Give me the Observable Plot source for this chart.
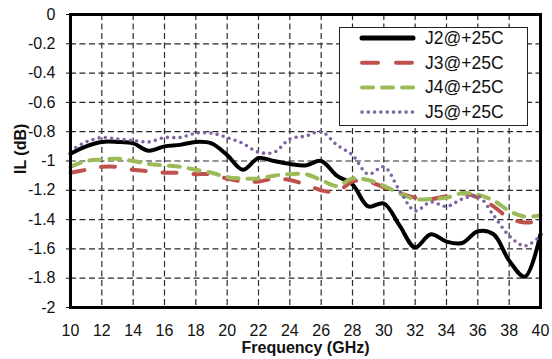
<!DOCTYPE html>
<html><head><meta charset="utf-8">
<script src="https://cdn.jsdelivr.net/npm/d3@7"></script>
<script src="https://cdn.jsdelivr.net/npm/@observablehq/plot@0.6"></script>
<style>
body{margin:0;background:#fff;}
#wrap{position:relative;width:552px;height:359px;}
svg{font-family:"Liberation Sans",Arial,sans-serif;}
g[aria-label="x-axis label"] text{font-weight:bold;}
#legend{position:absolute;left:0;top:0;pointer-events:none;}
</style></head><body><div id="wrap"></div>
<script>
const freq = [10,11,12,13,14,15,16,17,18,19,20,21,22,23,24,25,26,27,28,29,30,31,32,33,34,35,36,37,38,39,40];
const j2 = [-0.95,-0.90,-0.87,-0.87,-0.88,-0.93,-0.90,-0.89,-0.87,-0.88,-0.96,-1.06,-0.98,-1.00,-1.02,-1.03,-1.00,-1.10,-1.16,-1.31,-1.29,-1.44,-1.59,-1.50,-1.55,-1.56,-1.48,-1.50,-1.68,-1.79,-1.50];
const j3 = [-1.08,-1.06,-1.04,-1.04,-1.06,-1.07,-1.08,-1.08,-1.09,-1.09,-1.12,-1.14,-1.14,-1.12,-1.13,-1.16,-1.20,-1.21,-1.14,-1.14,-1.18,-1.22,-1.25,-1.26,-1.24,-1.22,-1.25,-1.31,-1.39,-1.42,-1.41];
const j4 = [-1.04,-1.00,-0.99,-0.985,-1.00,-1.02,-1.03,-1.04,-1.06,-1.08,-1.11,-1.12,-1.12,-1.10,-1.09,-1.09,-1.13,-1.17,-1.12,-1.13,-1.17,-1.22,-1.26,-1.26,-1.25,-1.22,-1.23,-1.27,-1.34,-1.38,-1.37];
const j5 = [-0.93,-0.87,-0.84,-0.85,-0.86,-0.87,-0.84,-0.84,-0.81,-0.81,-0.84,-0.88,-0.94,-0.94,-0.85,-0.83,-0.80,-0.89,-0.96,-1.09,-1.04,-1.20,-1.34,-1.28,-1.31,-1.26,-1.24,-1.37,-1.51,-1.58,-1.51];
const seriesNames = ["J2@+25C","J3@+25C","J4@+25C","J5@+25C"];
const seriesValues = [j2,j3,j4,j5];
const colors = ["#000000","#c0504d","#9bbb59","#8064a2"];
const dashes = ["none","14,17","11,9","0,6.3"];
const widths = [4,4,4,3.6];
const xTicks = [10,12,14,16,18,20,22,24,26,28,30,32,34,36,38,40];
const yTicks = [0,-0.2,-0.4,-0.6,-0.8,-1,-1.2,-1.4,-1.6,-1.8,-2];

const W = 552, H = 359;
const mL = 70, mT = 14, mR = 12, mB = 52;

const lineMarks = seriesNames.map((name, i) => {
  const data = freq.map((f, k) => ({f, v: seriesValues[i][k]}));
  return Plot.line(data, {x: "f", y: "v", stroke: colors[i], strokeWidth: widths[i],
    strokeDasharray: dashes[i], strokeLinecap: "round", curve: "catmull-rom"});
});

const gridStyle = {stroke: "#2a2a2a", strokeOpacity: 1, strokeWidth: 1.2, strokeDasharray: "6,3.5"};

const chart = Plot.plot({
  width: W, height: H,
  marginLeft: mL, marginTop: mT, marginRight: mR, marginBottom: mB,
  style: {background: "#fff", color: "#111", fontSize: "16px", fontFamily: "'Liberation Sans', Arial, sans-serif"},
  x: {domain: [10, 40]},
  y: {domain: [-2, 0]},
  marks: [
    Plot.gridX(xTicks, gridStyle),
    Plot.gridY(yTicks, gridStyle),
    ...lineMarks,
    Plot.frame({stroke: "#000", strokeWidth: 3}),
    Plot.axisX(xTicks, {tickSize: 0, tickPadding: 17, fontSize: 16, label: "Frequency (GHz)", labelAnchor: "center", labelOffset: 45, labelArrow: "none"}),
    Plot.axisY(yTicks, {tickSize: 4, tickPadding: 11, fontSize: 16, label: null, tickFormat: d => String(+d.toFixed(1))}),
    Plot.text(["IL (dB)"], {frameAnchor: "left", dx: -50, dy: 13, rotate: -90, fontSize: 16, fontWeight: "bold", fill: "#111"})
  ]
});
document.getElementById("wrap").appendChild(chart);

// legend
const leg = d3.select("#wrap").append("svg").attr("id", "legend").attr("width", W).attr("height", H);
leg.append("rect").attr("x", 339.5).attr("y", 27.5).attr("width", 188).attr("height", 98)
  .attr("fill", "#fff").attr("stroke", "#222").attr("stroke-width", 1);
seriesNames.forEach((name, i) => {
  const y = 38 + i * 24.7;
  leg.append("line").attr("x1", 362).attr("x2", 413).attr("y1", y).attr("y2", y)
    .attr("stroke", colors[i]).attr("stroke-width", i === 0 ? 5 : widths[i])
    .attr("stroke-dasharray", i === 1 ? "16,18" : dashes[i]).attr("stroke-linecap", "round");
  leg.append("text").attr("x", 425).attr("y", y + 6).text(name)
    .attr("font-size", 17.5).attr("fill", "#111")
    .attr("font-family", "'Liberation Sans', Arial, sans-serif");
});
</script>
</body></html>
